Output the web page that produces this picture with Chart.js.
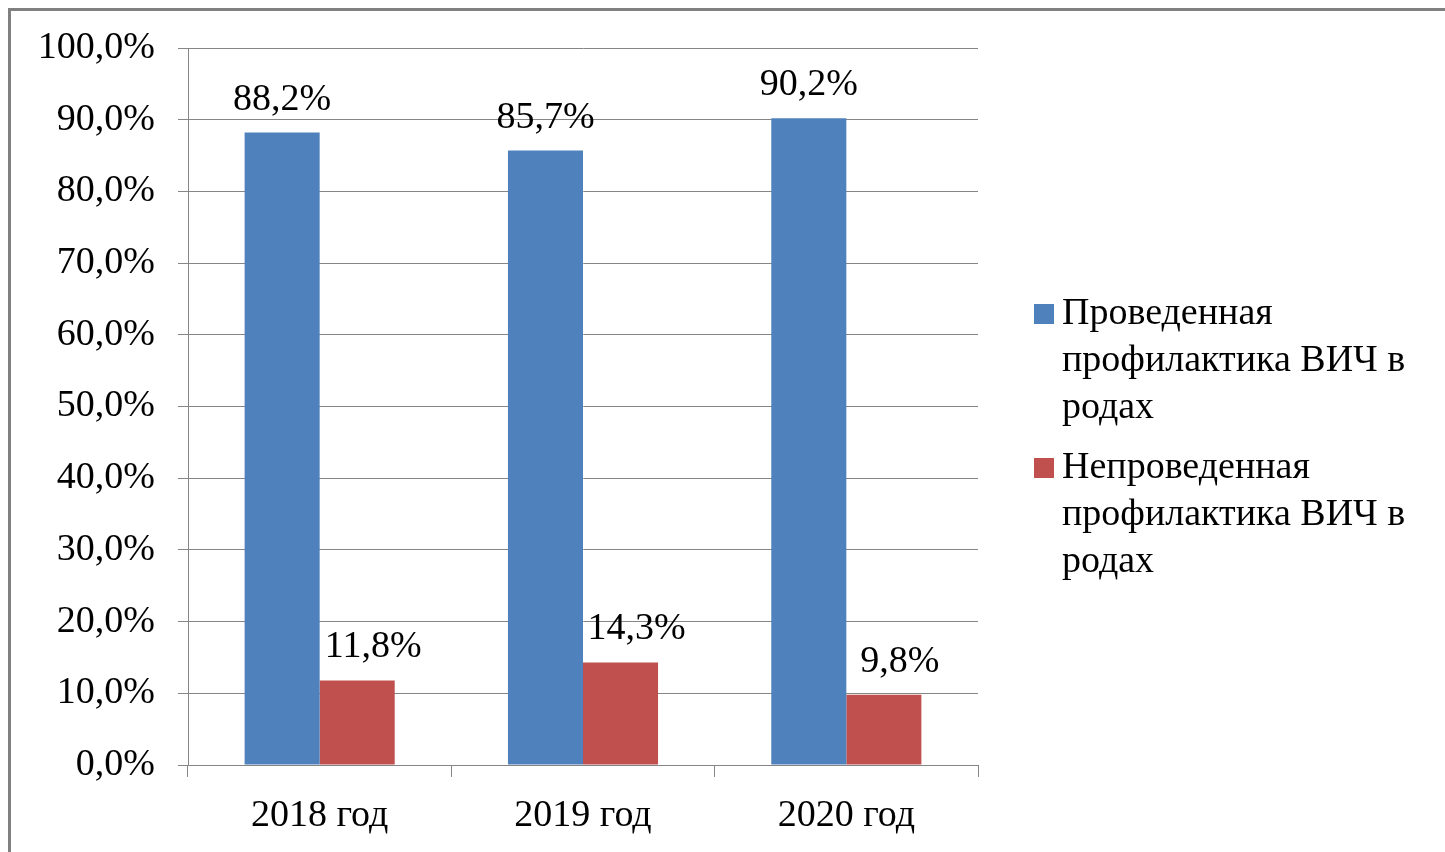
<!DOCTYPE html>
<html>
<head>
<meta charset="utf-8">
<script src="https://cdn.jsdelivr.net/npm/chart.js@4/dist/chart.umd.min.js"></script>
<style>
  html, body { margin: 0; padding: 0; background: #ffffff; }
  #wrap { position: relative; width: 1445px; height: 852px; overflow: hidden; background: #ffffff; }
  #frame { position: absolute; left: 8px; top: 8px; width: 1460px; height: 870px;
           border-top: 3px solid #808080; border-left: 3px solid #808080; box-sizing: border-box; }
  #c { position: absolute; left: 0; top: 0; }
</style>
</head>
<body>
<div id="wrap">
  <div id="frame"></div>
  <canvas id="c" width="1445" height="852"></canvas>
</div>
<script>
// Categories and series
const years = ['2018 год', '2019 год', '2020 год'];
const doneValues = [88.2, 85.7, 90.2];
const notDoneValues = [11.8, 14.3, 9.8];
const seriesNames = [
  ['Проведенная', 'профилактика ВИЧ в', 'родах'],
  ['Непроведенная', 'профилактика ВИЧ в', 'родах']
];

const FONT = '"Liberation Serif", "Times New Roman", serif';
const FSIZE = 38;
const GRID = '#868686';
const COLORS = ['#4F81BD', '#C0504D'];
const LABEL_DX = [0, 16];

const fmt = v => v.toFixed(1).replace('.', ',') + '%';

// Value labels above each bar
const valueLabels = {
  id: 'valueLabels',
  afterDatasetsDraw(chart) {
    const ctx = chart.ctx;
    ctx.save();
    ctx.font = FSIZE + 'px ' + FONT;
    ctx.fillStyle = '#000000';
    ctx.textAlign = 'center';
    ctx.textBaseline = 'alphabetic';
    chart.data.datasets.forEach((ds, i) => {
      const meta = chart.getDatasetMeta(i);
      meta.data.forEach((bar, j) => {
        ctx.fillText(fmt(ds.data[j]), bar.x + LABEL_DX[i], bar.y - 23);
      });
    });
    ctx.restore();
  }
};

// Legend with wrapped series names, right of the plot
const sideLegend = {
  id: 'sideLegend',
  afterDraw(chart) {
    const ctx = chart.ctx;
    const area = chart.chartArea;
    const lineH = 47;
    const itemGap = 60;
    const x0 = area.right + 56;
    let y = area.top + 266;
    ctx.save();
    ctx.font = FSIZE + 'px ' + FONT;
    ctx.textAlign = 'left';
    ctx.textBaseline = 'middle';
    chart.data.datasets.forEach((ds, i) => {
      ctx.fillStyle = ds.backgroundColor;
      ctx.fillRect(x0, y - 10, 20, 20);
      ctx.fillStyle = '#000000';
      seriesNames[i].forEach((line, k) => {
        ctx.fillText(line, x0 + 28, y + k * lineH);
      });
      y += (seriesNames[i].length - 1) * lineH + itemGap;
    });
    ctx.restore();
  }
};

new Chart(document.getElementById('c'), {
  type: 'bar',
  data: {
    labels: years,
    datasets: [
      { label: seriesNames[0].join(' '), data: doneValues, backgroundColor: COLORS[0] },
      { label: seriesNames[1].join(' '), data: notDoneValues, backgroundColor: COLORS[1] }
    ]
  },
  options: {
    responsive: false,
    animation: false,
    devicePixelRatio: 1,
    layout: { padding: { left: 10, right: 467, top: 48, bottom: 0 } },
    datasets: { bar: { categoryPercentage: 0.57, barPercentage: 1.0 } },
    plugins: {
      legend: { display: false },
      tooltip: { enabled: false }
    },
    scales: {
      x: {
        grid: { display: true, drawOnChartArea: false, drawTicks: true, tickLength: 12, color: GRID, offset: true },
        border: { display: true, color: GRID, width: 1 },
        ticks: { color: '#000000', font: { family: FONT, size: FSIZE }, padding: 16 },
        afterFit(scale) { scale.height = 87; }
      },
      y: {
        min: 0, max: 100,
        ticks: {
          stepSize: 10,
          color: '#000000',
          font: { family: FONT, size: FSIZE },
          padding: 23,
          callback: v => fmt(v)
        },
        grid: { color: GRID, tickLength: 10, lineWidth: 1 },
        border: { display: true, color: GRID, width: 1 },
        afterFit(scale) { scale.width = 178; }
      }
    }
  },
  plugins: [valueLabels, sideLegend]
});
</script>
</body>
</html>
